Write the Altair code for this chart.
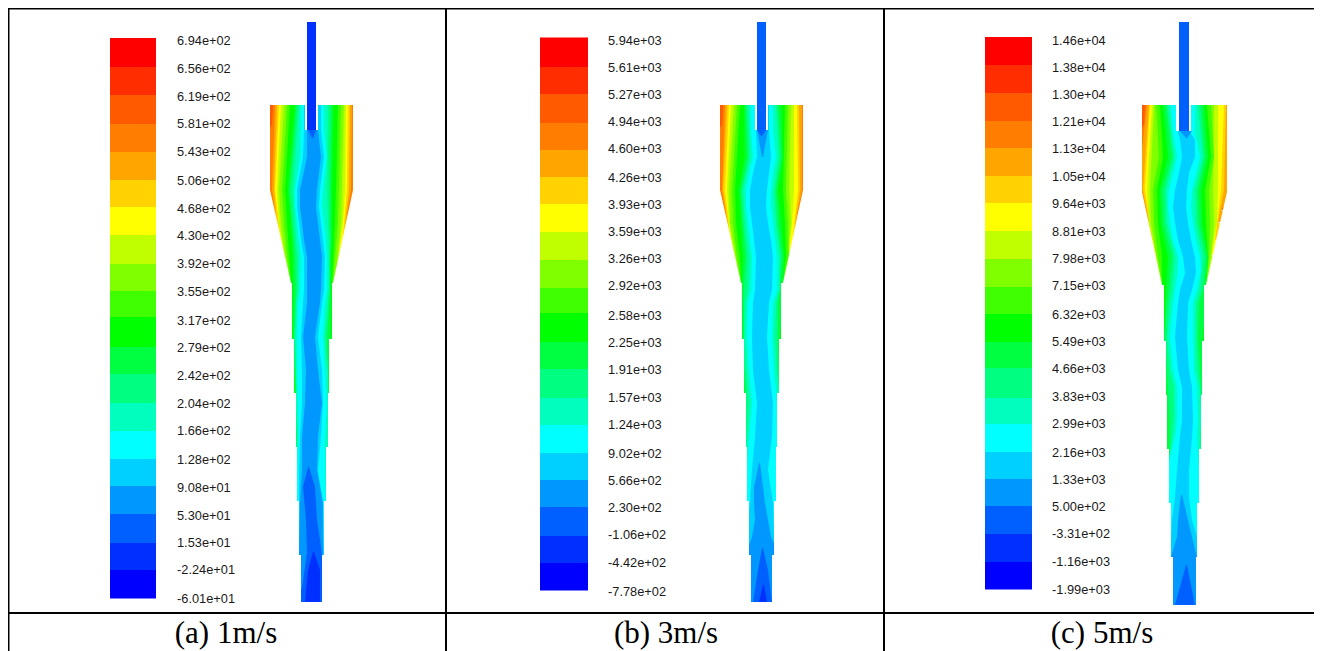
import altair as alt
import pandas as pd

LEVELS = ["#ff0000", "#ff2d00", "#ff5a00", "#ff7d00", "#ffa500", "#ffd200", "#ffff00",
          "#bfff00", "#80ff00", "#40ff00", "#00ff00", "#00ff40", "#00ff80", "#00ffbf",
          "#00ffff", "#00d0ff", "#0098ff", "#0060ff", "#0030ff", "#0000ff"]

LABELS_A = ["6.94e+02","6.56e+02","6.19e+02","5.81e+02","5.43e+02","5.06e+02","4.68e+02","4.30e+02","3.92e+02","3.55e+02","3.17e+02","2.79e+02","2.42e+02","2.04e+02","1.66e+02","1.28e+02","9.08e+01","5.30e+01","1.53e+01","-2.24e+01","-6.01e+01"]
LABELS_B = ["5.94e+03","5.61e+03","5.27e+03","4.94e+03","4.60e+03","4.26e+03","3.93e+03","3.59e+03","3.26e+03","2.92e+03","2.58e+03","2.25e+03","1.91e+03","1.57e+03","1.24e+03","9.02e+02","5.66e+02","2.30e+02","-1.06e+02","-4.42e+02","-7.78e+02"]
LABELS_C = ["1.46e+04","1.38e+04","1.30e+04","1.21e+04","1.13e+04","1.05e+04","9.64e+03","8.81e+03","7.98e+03","7.15e+03","6.32e+03","5.49e+03","4.66e+03","3.83e+03","2.99e+03","2.16e+03","1.33e+03","5.00e+02","-3.31e+02","-1.16e+03","-1.99e+03"]

LABEL_Y_A = [41,69,97,124,152,181,209,236,264,292,321,348,376,404,431,460,488,516,543,570,599]
LABEL_Y_B = [41,68,95,122,149,178,205,232,259,286,316,343,370,398,425,454,481,508,535,563,592]
LABEL_Y_C = [41,68,95,122,149,177,204,232,259,286,315,342,369,397,424,453,480,507,534,562,590]

BAR_Y_A = [38,67,95,124,152,180,207,235,264,291,317,347,374,403,431,459,486,514,543,570,598]
BAR_Y_B = [37.5,67,94,123,150,177,204,232,260,288,313,342,369,398,425,453,480,507,536,563,590]
BAR_Y_C = [37,65,93,121,148,176,203,231,259,287,314,342,368,398,424,452,479,506,534,562,589]

BAR_X = {"a": (110, 156), "b": (540, 588), "c": (985, 1032)}
LABEL_X = {"a": 177, "b": 608, "c": 1052}

TUBE = {"a": (307, 316, 22, 130, "#0030ff"), "b": (757, 766, 22, 130, "#0060ff"), "c": (1179, 1189, 22, 131, "#0060ff")}
ANNULUS = {"a": (305, 318, 105, 130), "b": (755, 768, 105, 130), "c": (1176, 1191, 105, 131)}

WALL_A = [(105,270,353),(190,270,353),(283,291,333),(283,292,332),(339,292,332),(339,294,329),(393,294,329),(393,296,328),(447,296,328),(447,297,326),(501,297,326),(501,299,324),(555,299,324),(555,301,322),(602,301,322)]
WALL_B = [(105,720,803),(190,720,803),(283,741,783),(283,742,781),(339,742,781),(339,744,779),(393,744,779),(393,746,777),(447,746,777),(447,747,776),(501,747,776),(501,749,774),(555,749,774),(555,751,772),(602,751,772)]
WALL_C = [(105,1142,1227),(192,1142,1227),(285,1162,1206),(285,1164,1204),(341,1164,1204),(341,1166,1202),(395,1166,1202),(395,1167,1201),(449,1167,1201),(449,1169,1199),(503,1169,1199),(503,1171,1197),(557,1171,1197),(557,1173,1196),(605,1173,1196)]

BANDS_A = [
 ("#ff5a00",[(105,262,360),(125,262,360)]),
 ("#ff7d00",[(105,273,360),(125,272,360),(135,262,360),(205,262,360)]),
 ("#ffa500",[(105,275,352),(190,272,351),(215,275,347)]),
 ("#ffd200",[(105,277,350),(190,274,349),(225,277,345)]),
 ("#ffff00",[(105,279,348),(190,275,347),(235,280,343)]),
 ("#bfff00",[(105,281,346),(190,277,345),(223,279,343),(250,283,339)]),
 ("#80ff00",[(105,284,344),(190,279,342),(223,281,341),(265,286,337)]),
 ("#40ff00",[(105,287,341),(190,282,339),(223,284,338),(283,290,333)]),
 ("#00ff00",[(105,290,338),(190,285,336),(223,287,335),(283,291,332),(339,291,333)]),
 ("#00ff40",[(105,295,333),(190,288,332),(223,291,332),(257,293,331),(283,293,331),(339,293,331),(393,295,329)]),
 ("#00ff80",[(105,297,331),(190,290,330),(223,292,330),(240,294,331),(257,295,330),(290,296,330),(339,294,327),(393,296,328),(447,297,327)]),
 ("#00ffbf",[(105,299,328),(190,293,327),(223,295,328),(240,296,329),(257,298,329),(290,298,329),(303,296,328),(337,295,325),(370,296,328),(403,296,328),(437,297,328),(470,296,327),(503,296,327)]),
 ("#00ffff",[(105,301,324),(130,301,324),(157,300,327),(190,295,323),(207,295,322),(223,297,324),(240,299,326),(257,301,327),(290,300,327),(303,298,325),(337,297,323),(370,297,325),(403,298,327),(437,298,325),(470,297,325),(503,297,326),(555,297,325)]),
 ("#00d0ff",[(105,304,321),(130,304,321),(157,303,324),(190,297,320),(207,297,319),(223,299,321),(240,301,323),(257,304,325),(290,304,324),(303,303,322),(337,301,318),(370,302,322),(403,302,323),(437,300,321),(470,299,318),(503,299,323),(555,298,324),(602,298,324)]),
 ("#0098ff",[(105,307,318),(130,307,318),(157,307,321),(190,300,317),(207,300,316),(223,302,318),(240,304,320),(257,307,322),(290,307,321),(303,307,320),(337,303,315),(370,306,318),(403,305,322),(437,302,318),(470,302,317),(503,300,323),(555,299,323),(602,299,323)]),
 ("#0060ff",[(130,308,316),(138,312,313)]),
 ("#0060ff",[(467,308,309),(487,303,315),(520,306,317),(553,307,322),(587,302,322),(602,298,326)]),
 ("#0030ff",[(552,313,314),(570,308,320),(602,305,320)]),
]

BANDS_B = [
 ("#ff5a00",[(105,712,810),(125,712,810)]),
 ("#ff7d00",[(105,723,810),(125,722,810),(135,712,810),(205,712,810)]),
 ("#ffa500",[(105,725,802),(190,722,802),(215,726,797)]),
 ("#ffd200",[(105,727,799),(190,723,800),(225,728,795)]),
 ("#ffff00",[(105,729,797),(190,725,798),(235,730,793)]),
 ("#bfff00",[(105,731,794),(190,727,794),(223,729,792),(250,733,789)]),
 ("#80ff00",[(105,734,791),(190,729,789),(223,730,791),(265,737,786)]),
 ("#40ff00",[(105,737,788),(190,732,786),(223,733,788),(257,737,789),(283,741,783)]),
 ("#00ff00",[(105,740,785),(190,735,783),(223,736,785),(257,740,786),(283,741,783),(339,741,783)]),
 ("#00ff40",[(105,744,781),(157,745,783),(190,739,778),(223,741,781),(257,743,784),(283,742,783),(339,744,780),(393,745,780)]),
 ("#00ff80",[(105,746,778),(157,748,781),(190,741,776),(223,743,778),(257,746,782),(303,743,778),(339,743,778),(393,745,779),(447,746,779)]),
 ("#00ffbf",[(105,748,776),(157,750,779),(190,743,774),(223,745,776),(257,749,780),(290,748,780),(303,745,776),(337,744,775),(370,746,777),(403,749,780),(437,747,780),(470,745,780),(503,745,780)]),
 ("#00ffff",[(105,751,773),(130,751,773),(157,753,776),(173,749,773),(190,746,771),(207,746,771),(223,748,773),(240,750,775),(257,752,777),(290,751,777),(303,748,773),(337,747,772),(370,749,774),(403,752,777),(437,749,777),(470,747,777),(503,746,777),(555,746,777)]),
 ("#00d0ff",[(105,756,769),(130,756,769),(157,757,771),(173,753,769),(190,750,767),(207,750,766),(223,752,768),(240,754,771),(257,756,773),(290,755,772),(303,753,769),(337,752,767),(370,753,769),(403,757,773),(437,755,772),(470,752,768),(503,750,773),(537,745,774),(602,745,780)]),
 ("#0098ff",[(130,757,768),(157,762,763)]),
 ("#0060ff",[(130,757,766),(136,761,762)]),
 ("#0098ff",[(463,759,760),(487,754,763),(503,754,765),(520,755,768),(537,752,771),(555,745,780),(602,745,780)]),
 ("#0060ff",[(548,762,763),(570,758,768),(602,753,772)]),
 ("#0030ff",[(585,763,764),(602,759,767)]),
]

BANDS_C = [
 ("#ff5a00",[(105,1134,1235),(125,1134,1235)]),
 ("#ff7d00",[(105,1145,1235),(125,1144,1235),(135,1134,1235),(205,1134,1235)]),
 ("#ffa500",[(105,1147,1235),(150,1142,1235),(190,1142,1235),(210,1146,1221)]),
 ("#ffd200",[(105,1149,1226),(190,1143,1224),(222,1149,1218)]),
 ("#ffff00",[(105,1150,1224),(190,1145,1221),(240,1153,1215)]),
 ("#bfff00",[(105,1152,1218),(190,1147,1218),(223,1149,1217),(255,1156,1211)]),
 ("#80ff00",[(105,1154,1214),(190,1150,1213),(223,1151,1214),(250,1155,1212),(270,1159,1209)]),
 ("#40ff00",[(105,1156,1211),(157,1159,1214),(190,1153,1209),(223,1154,1210),(257,1158,1209),(285,1162,1206)]),
 ("#00ff00",[(105,1160,1207),(157,1163,1211),(190,1157,1205),(223,1158,1206),(257,1162,1208),(285,1162,1206),(341,1164,1204)]),
 ("#00ff40",[(105,1163,1204),(157,1168,1208),(190,1160,1201),(223,1161,1202),(257,1168,1208),(290,1166,1206),(339,1164,1203),(395,1166,1202),(449,1167,1201)]),
 ("#00ff80",[(105,1166,1201),(157,1172,1205),(190,1163,1198),(223,1164,1199),(257,1172,1206),(290,1169,1203),(303,1167,1199),(337,1165,1198),(370,1167,1200),(420,1170,1203),(447,1170,1203),(470,1168,1201)]),
 ("#00ffbf",[(105,1168,1198),(157,1174,1203),(190,1166,1195),(223,1167,1196),(257,1175,1203),(290,1172,1200),(303,1170,1196),(337,1167,1196),(370,1170,1197),(387,1174,1200),(420,1174,1201),(437,1172,1200),(470,1168,1200),(503,1168,1201)]),
 ("#00ffff",[(105,1171,1195),(132,1173,1195),(157,1177,1200),(190,1169,1192),(207,1168,1191),(223,1170,1193),(240,1173,1196),(257,1178,1200),(270,1178,1201),(290,1175,1197),(303,1173,1193),(337,1170,1193),(370,1173,1194),(387,1177,1197),(420,1177,1198),(437,1175,1197),(470,1167,1199),(503,1169,1199),(557,1169,1199)]),
 ("#00d0ff",[(105,1178,1190),(132,1178,1190),(140,1180,1195),(157,1182,1195),(173,1179,1189),(190,1175,1187),(207,1173,1186),(223,1175,1188),(240,1178,1191),(257,1183,1195),(273,1185,1196),(290,1180,1192),(303,1178,1188),(337,1175,1187),(370,1178,1189),(387,1182,1192),(420,1182,1193),(437,1180,1192),(470,1177,1189),(497,1175,1189),(520,1172,1192),(537,1171,1197),(605,1171,1197)]),
 ("#0098ff",[(131,1180,1192),(138,1186,1187)]),
 ("#0098ff",[(495,1181,1182),(520,1178,1188),(537,1177,1192),(557,1171,1197),(605,1171,1197)]),
 ("#0060ff",[(565,1186,1187),(605,1175,1195)]),
]

CAPTIONS = [("(a) 1m/s", 226), ("(b) 3m/s", 666), ("(c) 5m/s", 1102)]
V_LINES = [8.5, 446, 884]
H_LINES = [8.5, 613]

X = alt.X("x:Q", scale=alt.Scale(domain=[8, 1314], nice=False, zero=False), axis=None)
Yc = alt.Y("y:Q", scale=alt.Scale(domain=[651, 8], nice=False, zero=False), axis=None)

rect_rows, text_rows, area_layers = [], [], []


def area_layer(rows, colour):
    return alt.Chart(pd.DataFrame(rows)).mark_area(
        orient="horizontal", interpolate="linear", color=colour, opacity=1
    ).encode(x=X, x2="x2:Q", y=Yc)


for key, bands, wall, bar_y, labels, label_y in [
    ("a", BANDS_A, WALL_A, BAR_Y_A, LABELS_A, LABEL_Y_A),
    ("b", BANDS_B, WALL_B, BAR_Y_B, LABELS_B, LABEL_Y_B),
    ("c", BANDS_C, WALL_C, BAR_Y_C, LABELS_C, LABEL_Y_C)]:
    lo = min(w[1] for w in wall) - 15
    hi = max(w[2] for w in wall) + 15
    # bands that start at the top: each one runs on under the next, out to the wall
    chain = [b for b in bands if b[1][0][0] == 105]
    next_end = {id(chain[i]): chain[i + 1][1][-1][0] for i in range(len(chain) - 1)}
    for band in bands:
        colour, pts = band
        rows = [dict(y=y, x=x0, x2=x1) for (y, x0, x1) in pts]
        if id(band) in next_end:
            rows.append(dict(y=next_end[id(band)], x=lo, x2=hi))
        area_layers.append(area_layer(rows, colour))
    area_layers.append(area_layer(
        [dict(y=y, x=lo, x2=x0) for (y, x0, x1) in wall], "#ffffff"))
    area_layers.append(area_layer(
        [dict(y=y, x=x1, x2=hi) for (y, x0, x1) in wall], "#ffffff"))
    bx0, bx1 = BAR_X[key]
    for k, colour in enumerate(LEVELS):
        rect_rows.append(dict(x=bx0, x2=bx1, y=bar_y[k], y2=bar_y[k + 1] + 0.5, c=colour, o=k))
    ax0, ax1, ay0, ay1 = ANNULUS[key]
    rect_rows.append(dict(x=ax0, x2=ax1, y=ay0, y2=ay1, c="#ffffff", o=100))
    tx0, tx1, ty0, ty1, tc = TUBE[key]
    rect_rows.append(dict(x=tx0, x2=tx1, y=ty0, y2=ty1, c=tc, o=101))
    for t, ty in zip(labels, label_y):
        text_rows.append(dict(x=LABEL_X[key], y=ty, t=t))

rects = alt.Chart(pd.DataFrame(rect_rows)).mark_rect().encode(
    x=X, x2="x2:Q", y=Yc, y2="y2:Q", color=alt.Color("c:N", scale=None), order=alt.Order("o:Q"))
texts = alt.Chart(pd.DataFrame(text_rows)).mark_text(
    align="left", baseline="middle", font="Liberation Sans", fontSize=12.8, color="#1a1a1a").encode(
    x=X, y=Yc, text="t:N")
caps = alt.Chart(pd.DataFrame([dict(t=t, x=x, y=643) for t, x in CAPTIONS])).mark_text(
    align="center", baseline="alphabetic", font="Liberation Serif", fontSize=31, color="#000000").encode(
    x=X, y=Yc, text="t:N")
vl = alt.Chart(pd.DataFrame([dict(x=x, y=8, y2=651) for x in V_LINES])).mark_rule(color="#000000", strokeWidth=2).encode(
    x=X, y=Yc, y2="y2:Q")
hl = alt.Chart(pd.DataFrame([dict(x=8, x2=1314, y=y) for y in H_LINES])).mark_rule(color="#000000", strokeWidth=2).encode(
    x=X, x2="x2:Q", y=Yc)

chart = alt.layer(*area_layers, rects, texts, caps, vl, hl).properties(
    width=1306, height=643, padding=0,
    autosize=alt.AutoSizeParams(type="none"),
    background="#ffffff",
).configure_view(stroke=None)
chart.save("out.html", embed_options={"renderer": "svg", "actions": False})
